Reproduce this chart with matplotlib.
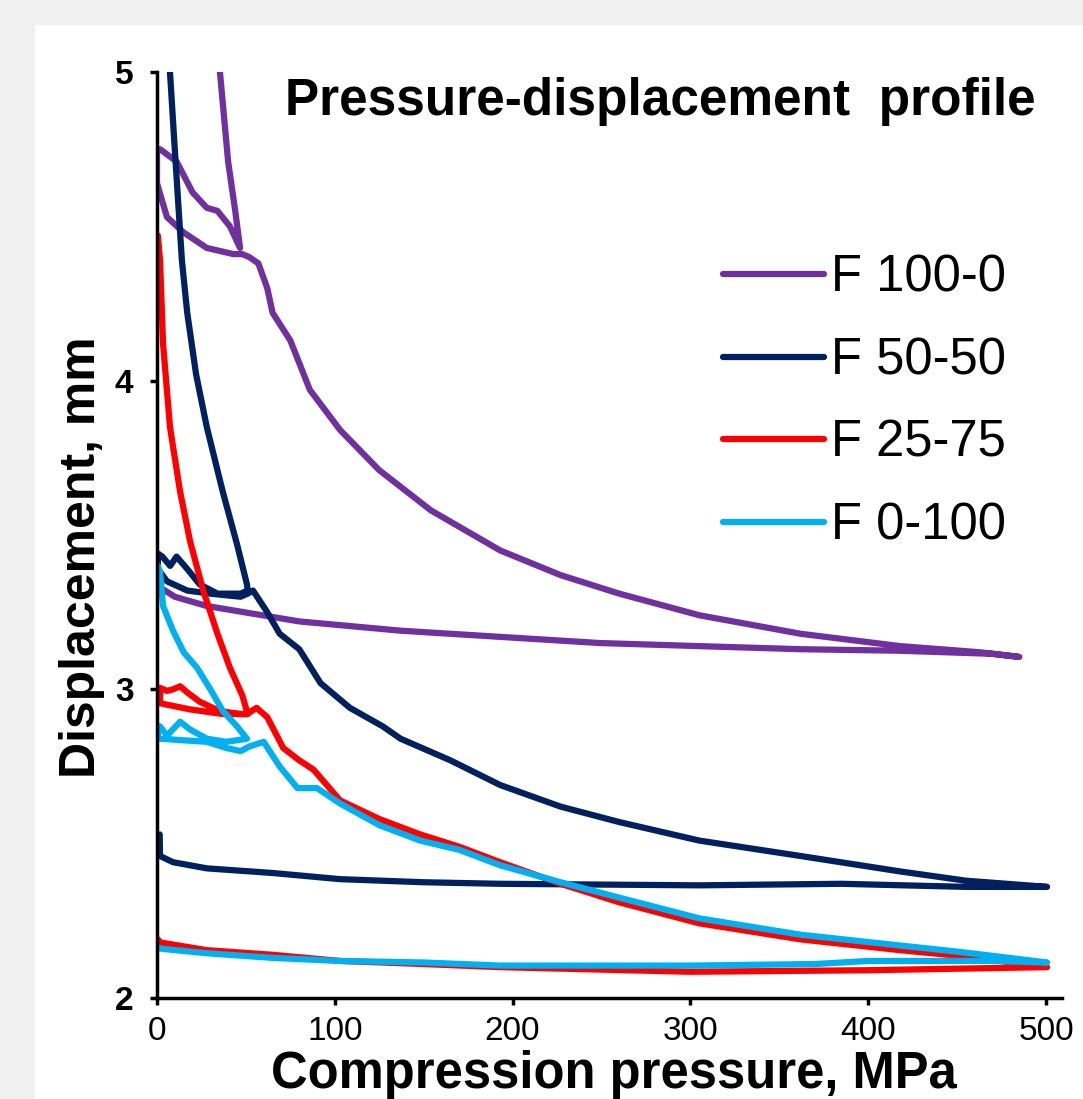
import matplotlib
matplotlib.use("Agg")
import matplotlib.pyplot as plt
from matplotlib.patches import Rectangle

# pressure (MPa) / displacement (mm) traces
p_f100 = [33, 35.4, 40, 44, 46.7, 41, 34, 28, 20, 11, 1.7, 0, 0, 2, 5.6, 15, 28, 43, 48, 52,
          57, 62, 65, 75, 86, 103, 125, 154, 193, 227, 260, 305, 362, 418, 463, 485,
          470, 418, 362, 305, 249, 193, 137, 80, 28, 10, 1.7, 0]
d_f100 = [5.15, 5.0, 4.71, 4.55, 4.43, 4.50, 4.55, 4.56, 4.61, 4.71, 4.75, 4.74, 4.64, 4.60, 4.53,
          4.48, 4.43, 4.41, 4.41, 4.40, 4.38, 4.30, 4.22, 4.13, 3.97, 3.84, 3.71, 3.58, 3.45,
          3.37, 3.31, 3.24, 3.18, 3.14, 3.12, 3.105,
          3.115, 3.125, 3.13, 3.14, 3.15, 3.17, 3.19, 3.22, 3.27, 3.30, 3.33, 3.34]

p_f50 = [6.5, 7.3, 10, 14, 17, 22, 28, 37, 45, 50.6, 51, 47, 34, 24, 17, 11, 7.4, 3, 0.5, 0.5,
         5.6, 17, 30, 47, 51, 54, 62, 69, 80, 92, 108.5, 127, 137, 165, 193, 227, 260, 305,
         362, 418, 455, 500.6,
         455, 385, 305, 193, 150, 103, 65, 28, 9, 1.7, 1.5]
d_f50 = [5.15, 5.0, 4.75, 4.39, 4.22, 4.02, 3.85, 3.64, 3.47, 3.34, 3.32, 3.31, 3.31, 3.34, 3.39,
         3.43, 3.40, 3.43, 3.44, 3.39, 3.35, 3.32, 3.31, 3.30, 3.31, 3.32, 3.25, 3.18, 3.13,
         3.02, 2.94, 2.88, 2.84, 2.77, 2.69, 2.62, 2.57, 2.51, 2.46, 2.41, 2.38, 2.36,
         2.36, 2.37, 2.365, 2.37, 2.375, 2.385, 2.405, 2.42, 2.44, 2.46, 2.53]

p_f25 = [0.5, 1.7, 3.4, 7.3, 13, 18.6, 26, 34, 41, 48, 51, 47, 35, 24, 17, 13, 9, 5.6, 1.7, 1.7,
         18.6, 37, 50.6, 56, 62, 71, 80, 88, 103, 125, 148, 170, 193, 227, 260, 305, 362,
         418, 452, 475, 500.6,
         450, 400, 300, 193, 150, 103, 65, 28, 1.7, 0.5]
d_f25 = [4.47, 4.39, 4.12, 3.85, 3.64, 3.48, 3.32, 3.18, 3.07, 2.98, 2.92, 2.92, 2.93, 2.96, 2.99,
         3.01, 3.00, 2.995, 3.005, 2.955, 2.935, 2.92, 2.92, 2.94, 2.91, 2.81, 2.77, 2.74,
         2.64, 2.58, 2.53, 2.49, 2.44, 2.37, 2.31, 2.242, 2.19, 2.155, 2.136, 2.12, 2.10,
         2.095, 2.09, 2.085, 2.10, 2.11, 2.12, 2.14, 2.155, 2.18, 2.19]

p_f0 = [0.5, 1.7, 3.4, 9, 15, 22.5, 30, 37, 45, 50.6, 39, 28, 18.6, 13, 5.6, 1.7, 0.5, 0.5, 1.7,
        28, 39, 47, 52, 60, 69, 79, 90, 103, 125, 148, 170, 193, 227, 260, 305, 362, 418,
        452, 500.6,
        470, 400, 370, 300, 193, 150, 103, 65, 28, 1.7, 0.5]
d_f0 = [3.40, 3.38, 3.27, 3.19, 3.12, 3.07, 3.00, 2.93, 2.88, 2.84, 2.83, 2.84, 2.87, 2.895,
        2.85, 2.88, 2.88, 2.84, 2.84, 2.83, 2.81, 2.80, 2.815, 2.83, 2.75, 2.68, 2.68, 2.63,
        2.56, 2.51, 2.48, 2.43, 2.375, 2.325, 2.258, 2.205, 2.17, 2.149, 2.115,
        2.12, 2.12, 2.11, 2.105, 2.105, 2.115, 2.12, 2.13, 2.145, 2.16, 2.165]

labels = ["F 100-0", "F 50-50", "F 25-75", "F 0-100"]
colors = ["#7030A0", "#002060", "#FF0000", "#00B0F0"]

narrow = ["Liberation Sans Narrow", "Liberation Sans", "DejaVu Sans"]
plt.rcParams["font.family"] = ["Liberation Sans", "DejaVu Sans"]


def plot_profile():
    W, H = 1083, 1099
    fig = plt.figure(figsize=(W / 100, H / 100), dpi=100, facecolor="#f0f0f0")
    fig.patches.append(Rectangle((35 / W, 0), 1, 1 - 25 / H, transform=fig.transFigure,
                                 facecolor="white", edgecolor="none", zorder=-5))

    ax = fig.add_axes([157 / W, 1 - 998 / H, (1062 - 157) / W, (998 - 72) / H])
    ax.patch.set_alpha(0)

    series = [(p_f100, d_f100), (p_f50, d_f50), (p_f25, d_f25), (p_f0, d_f0)]
    for (p, d), lab, c in zip(series, labels, colors):
        ax.plot(p, d, color=c, lw=4.5, label=lab, solid_joinstyle="round",
                solid_capstyle="round")

    ax.set_xlim(0, 509)
    ax.set_ylim(2, 5)
    ax.set_xticks([0, 100, 200, 300, 400, 500])
    ax.set_yticks([2, 3, 4, 5])
    for s in ["top", "right"]:
        ax.spines[s].set_visible(False)
    for s in ["left", "bottom"]:
        ax.spines[s].set_linewidth(2.5)
    ax.tick_params(direction="out", length=5, width=2.5)
    ax.tick_params(axis="x", pad=8)
    ax.tick_params(axis="y", pad=12)
    for t in ax.get_xticklabels():
        t.set_fontfamily(narrow)
        t.set_fontsize(24)
    for t in ax.get_yticklabels():
        t.set_fontfamily(narrow)
        t.set_fontsize(24)
        t.set_fontweight("bold")

    fig.text(614 / W, 1 - 1088 / H, "Compression pressure, MPa", ha="center",
             va="baseline", fontsize=36.5, fontweight="bold")
    fig.text(82 / W, 1 - 557 / H, "Displacement, mm", rotation=90, ha="center",
             va="center", fontsize=36, fontweight="bold")
    fig.text(285 / W, 1 - 115 / H, "Pressure-displacement  profile", ha="left",
             va="baseline", fontsize=37, fontweight="bold")

    ax.legend(loc="upper left", bbox_to_anchor=(723 / W, 1 - 254 / H),
              bbox_transform=fig.transFigure, frameon=False, fontsize=36.5,
              handlelength=2.0, handletextpad=0.14, labelspacing=0.66,
              borderpad=0, borderaxespad=0)

    fig.savefig("out.png", dpi=100, facecolor=fig.get_facecolor())


if __name__ == "__main__":
    plot_profile()
